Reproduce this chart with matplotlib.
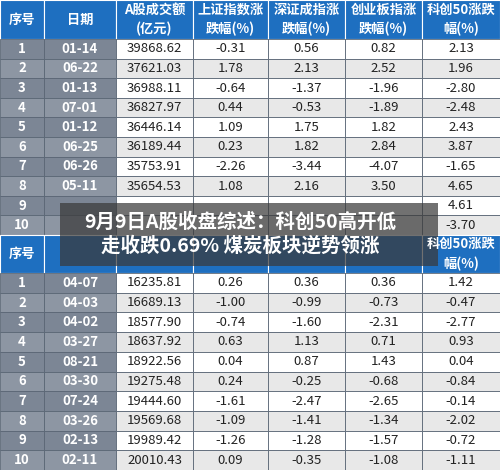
import matplotlib.pyplot as plt
from matplotlib.patches import Rectangle

plt.rcParams['font.family'] = ['Noto Sans CJK SC', 'DejaVu Sans']

headers = ["序号", "日期", "A股成交额\n(亿元)", "上证指数涨\n跌幅(%)", "深证成指涨\n跌幅(%)", "创业板指涨\n跌幅(%)", "科创50涨跌\n幅(%)"]

top_dates = ["01-14", "06-22", "01-13", "07-01", "01-12", "06-25", "06-26", "05-11", "06-29", "05-08"]
top_amount = ["39868.62", "37621.03", "36988.11", "36827.97", "36446.14", "36189.44", "35753.91", "35654.53", "35393.41", "35170.66"]
top_sh = ["-0.31", "1.78", "-0.64", "0.44", "1.09", "0.23", "-2.26", "1.08", "1.16", "-2.00"]
top_sz = ["0.56", "2.13", "-1.37", "-0.53", "1.75", "1.82", "-3.44", "2.16", "0.19", "-2.23"]
top_cy = ["0.82", "2.52", "-1.96", "-1.89", "1.82", "2.84", "-4.07", "3.50", "0.54", "-2.13"]
top_kc = ["2.13", "1.96", "-2.80", "-2.48", "2.43", "3.87", "-1.65", "4.65", "4.61", "-3.70"]

bot_dates = ["04-07", "04-03", "04-02", "03-27", "08-21", "03-30", "07-24", "03-26", "02-13", "02-11"]
bot_amount = ["16235.81", "16689.13", "18577.90", "18637.92", "18922.56", "19275.48", "19444.60", "19569.68", "19989.42", "20010.43"]
bot_sh = ["0.26", "-1.00", "-0.74", "0.63", "0.04", "0.24", "-1.61", "-1.09", "-1.26", "0.09"]
bot_sz = ["0.36", "-0.99", "-1.60", "1.13", "0.87", "-0.25", "-2.47", "-1.41", "-1.28", "-0.35"]
bot_cy = ["0.36", "-0.73", "-2.31", "0.71", "1.43", "-0.68", "-2.65", "-1.34", "-1.57", "-1.08"]
bot_kc = ["1.42", "-0.47", "-2.77", "0.93", "0.04", "-0.84", "-0.14", "-2.02", "-0.72", "-1.11"]

title = "9月9日A股收盘综述：科创50高开低\n走收跌0.69% 煤炭板块逆势领涨"

col_x = [0, 44, 116, 193, 268, 345, 422, 500]
BLUE = "#1e6fc0"

fig = plt.figure(figsize=(5.0, 4.7), dpi=100)
ax = fig.add_axes([0, 0, 1, 1])
ax.set_xlim(0, 500)
ax.set_ylim(470, 0)
ax.axis("off")

# overlay box region (cells under it are drawn without text, as the overlay hides them)
OV = (60, 203, 438, 266)


def covered(x0, x1, y0, y1):
    cx, cy = (x0 + x1) / 2, (y0 + y1) / 2
    return OV[0] < cx < OV[2] and OV[1] < cy < OV[3]


def draw_table(y0, hh, rh, dates, cols):
    for c in range(7):
        x0, x1 = col_x[c], col_x[c + 1]
        ax.add_patch(Rectangle((x0, y0), x1 - x0, hh, fc=BLUE, ec="white", lw=0.8))
        if not covered(x0, x1, y0, y0 + hh):
            ax.text((x0 + x1) / 2, y0 + hh / 2, headers[c], color="white", ha="center",
                    va="center", fontsize=9.5, fontweight="bold", linespacing=1.45)
    for r in range(10):
        y = y0 + hh + r * rh
        even = r % 2 == 1
        vals = [str(r + 1), dates[r]] + [col[r] for col in cols]
        for c in range(7):
            x0, x1 = col_x[c], col_x[c + 1]
            if c < 2:
                fc = "#8d96a3" if even else "#7c8695"
                tc = "white"
                fw = "bold"
            else:
                fc = "#e8e8e8" if even else "white"
                tc = "#222222"
                fw = "normal"
            ax.add_patch(Rectangle((x0, y), x1 - x0, rh, fc=fc, ec="#5a6675", lw=0.6))
            if not covered(x0, x1, y, y + rh):
                ax.text((x0 + x1) / 2, y + rh / 2, vals[c], color=tc, ha="center",
                        va="center", fontsize=9.5, fontweight=fw)


draw_table(0, 39, 19.6, top_dates, [top_amount, top_sh, top_sz, top_cy, top_kc])
draw_table(235, 38, 19.7, bot_dates, [bot_amount, bot_sh, bot_sz, bot_cy, bot_kc])

ax.add_patch(Rectangle((OV[0], OV[1]), OV[2] - OV[0], OV[3] - OV[1], fc="#3a3a3a",
                       alpha=0.72, ec="none"))
ax.text(240, 234, title, color="white", ha="center", va="center", fontsize=14,
        fontweight="bold", linespacing=1.3)

fig.savefig("out.png")
